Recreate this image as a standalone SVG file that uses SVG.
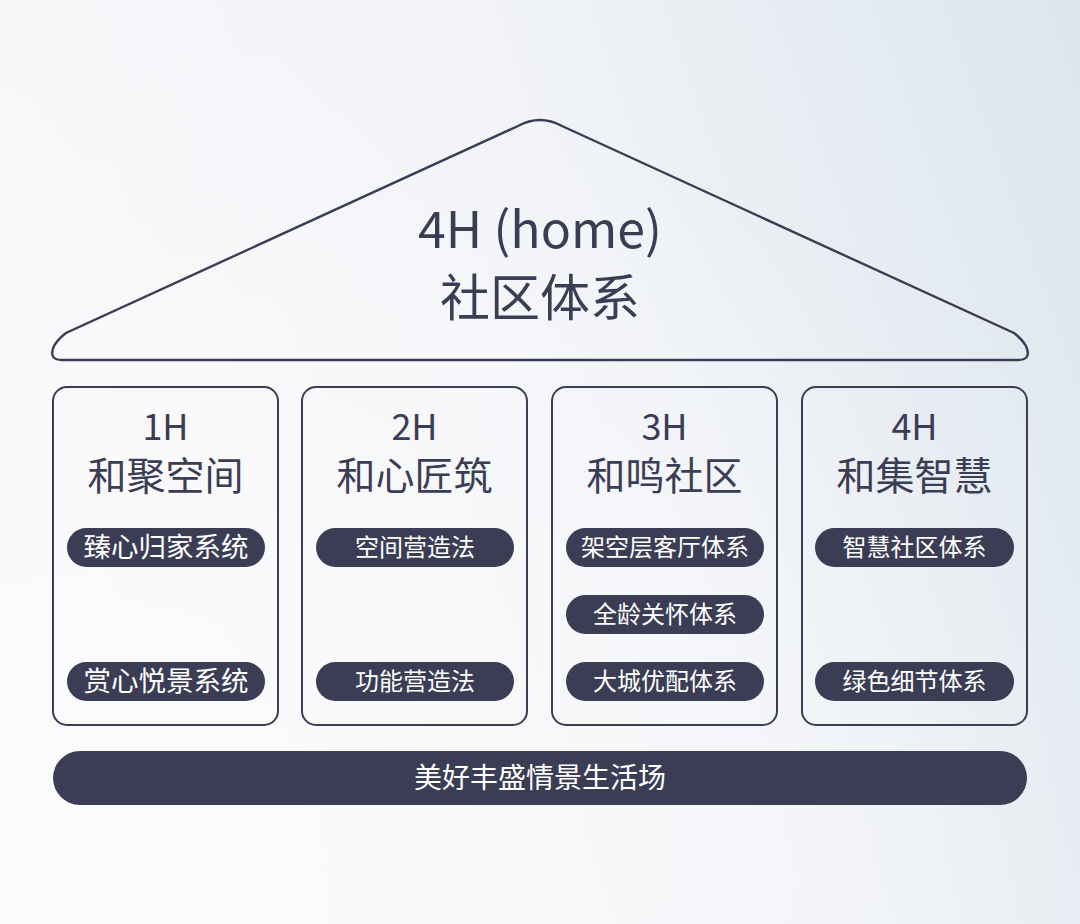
<svg xmlns="http://www.w3.org/2000/svg" width="1080" height="924" viewBox="0 0 1080 924">
<defs>
<linearGradient id="bg" x1="0" y1="0.3" x2="1" y2="0">
<stop offset="0" stop-color="#f8f8fa"/>
<stop offset="0.5" stop-color="#f1f3f7"/>
<stop offset="1" stop-color="#dce6ee"/>
</linearGradient>
<radialGradient id="bg2" cx="0.1" cy="0.9" r="0.9">
<stop offset="0" stop-color="#fbfbfc" stop-opacity="1"/>
<stop offset="1" stop-color="#fbfbfc" stop-opacity="0"/>
</radialGradient>
<style>
.ln{fill:none;stroke:#3b3d55;stroke-width:2.4}
.box{fill:none;stroke:#3b3d55;stroke-width:2;}
.pill{fill:#3b3d55}
.t{font-family:"Noto Sans CJK SC","Noto Sans",sans-serif;fill:#3b3d55;text-anchor:middle}
.pt{font-family:"Noto Sans CJK SC","Noto Sans",sans-serif;fill:#ffffff;text-anchor:middle;font-size:24px}
.big{font-size:27.5px}
.h{font-size:36px}
.n{font-size:39px}
</style>
</defs>
<rect width="1080" height="924" fill="url(#bg)"/>
<rect width="1080" height="924" fill="url(#bg2)"/>

<g id="roof">
<path class="ln" d="M62,360 L1018,360 Q1032,360 1026,346 Q1022,339 1014,333 L562,126 Q540,114 518,126 L66,333 Q58,339 54,346 Q48,360 62,360 Z"/>
<text class="t" x="540" y="248" font-size="50">4H (home)</text>
<text class="t" x="540" y="316" font-size="50">社区体系</text>
</g>

<g id="h1">
<rect class="box" x="53" y="387" width="225" height="338" rx="14"/>
<text class="t h" x="165.5" y="440">1H</text>
<text class="t n" x="165.5" y="490">和聚空间</text>
<rect class="pill" x="67" y="528" width="198" height="39" rx="19.5"/>
<text class="pt big" x="166" y="557">臻心归家系统</text>
<rect class="pill" x="67" y="662" width="198" height="39" rx="19.5"/>
<text class="pt big" x="166" y="691">赏心悦景系统</text>
</g>

<g id="h2">
<rect class="box" x="302" y="387" width="225" height="338" rx="14"/>
<text class="t h" x="414.5" y="440">2H</text>
<text class="t n" x="414.5" y="490">和心匠筑</text>
<rect class="pill" x="316" y="528" width="198" height="39" rx="19.5"/>
<text class="pt" x="415" y="556">空间营造法</text>
<rect class="pill" x="316" y="662" width="198" height="39" rx="19.5"/>
<text class="pt" x="415" y="690">功能营造法</text>
</g>

<g id="h3">
<rect class="box" x="552" y="387" width="225" height="338" rx="14"/>
<text class="t h" x="664.5" y="440">3H</text>
<text class="t n" x="664.5" y="490">和鸣社区</text>
<rect class="pill" x="566" y="528" width="198" height="39" rx="19.5"/>
<text class="pt" x="665" y="556">架空层客厅体系</text>
<rect class="pill" x="566" y="595" width="198" height="39" rx="19.5"/>
<text class="pt" x="665" y="623">全龄关怀体系</text>
<rect class="pill" x="566" y="662" width="198" height="39" rx="19.5"/>
<text class="pt" x="665" y="690">大城优配体系</text>
</g>

<g id="h4">
<rect class="box" x="802" y="387" width="225" height="338" rx="14"/>
<text class="t h" x="914.5" y="440">4H</text>
<text class="t n" x="914.5" y="490">和集智慧</text>
<rect class="pill" x="815" y="528" width="199" height="39" rx="19.5"/>
<text class="pt" x="914.5" y="556">智慧社区体系</text>
<rect class="pill" x="815" y="662" width="199" height="39" rx="19.5"/>
<text class="pt" x="914.5" y="690">绿色细节体系</text>
</g>

<g id="base">
<rect class="pill" x="53" y="751" width="974" height="54" rx="27"/>
<text class="pt" x="540" y="788" style="font-size:28px">美好丰盛情景生活场</text>
</g>

<g id="connectors"></g>
</svg>
